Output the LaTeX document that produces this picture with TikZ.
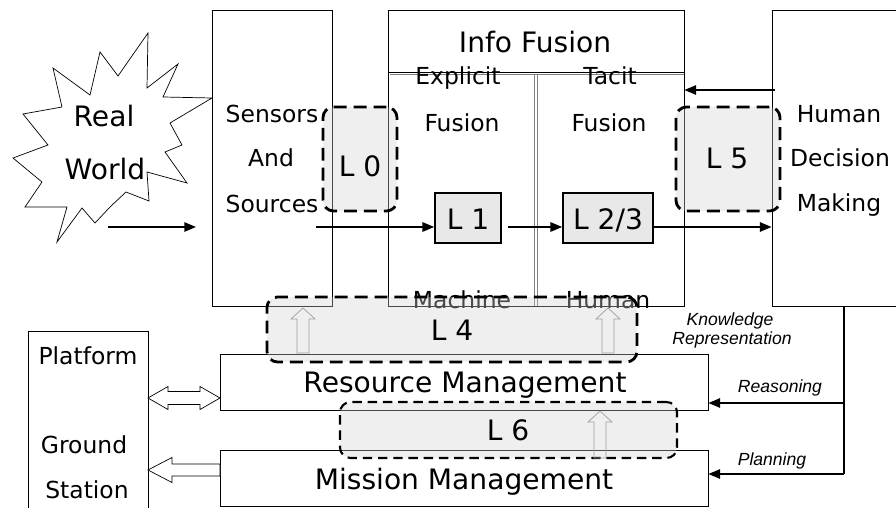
\documentclass[tikz,border=0pt]{standalone}
\usepackage{fontspec}
\setmainfont{DejaVu Sans}
\newfontfamily\notefont{Liberation Sans}
\usetikzlibrary{arrows.meta,fit,calc,positioning}

\tikzset{
  box/.style={draw, line width=0.7pt, inner sep=0pt},
  lvl/.style={draw, line width=1.4pt, fill=gray!18, inner sep=0pt},
  dashlvl/.style={draw, line width=2.4pt, dash pattern=on 11pt off 6pt,
    rounded corners=9pt, fill=gray!35, fill opacity=0.35, inner sep=0pt},
  flow/.style={line width=1.4pt, -{Triangle[length=10pt,width=8pt]}},
  hollow/.style={draw=gray!75, line width=0.6pt},
  big/.style={font=\fontsize{24}{28}\selectfont, inner sep=0pt},
  mid/.style={font=\fontsize{20}{24}\selectfont, inner sep=0pt},
  note/.style={font=\notefont\itshape\fontsize{15}{17}\selectfont, inner sep=0pt},
}

% hollow up arrow: x, bottom y, top y
\newcommand{\hollowup}[3]{%
  \draw[hollow] (#1-6,#2) -- (#1-6,#3+11) -- (#1-12,#3+11) -- (#1,#3)
    -- (#1+12,#3+11) -- (#1+6,#3+11) -- (#1+6,#2) -- cycle;}

\begin{document}
\begin{tikzpicture}[x=0.03cm, y=-0.03cm]
\useasboundingbox (0,0) rectangle (896,508);
\clip (0,0) rectangle (896,508);

% real world
\draw[line width=0.6pt] plot coordinates {(148,33) (147,88) (178,64) (163,97) (212,98)
  (170,123) (182,145) (165,152) (187,183) (147,172) (149,201) (126,192) (110,207)
  (95,223) (82,208) (57,242) (67,207) (25,207) (42,182) (13,158) (48,145) (23,114)
  (62,107) (53,68) (90,95) (100,52) (118,76)} -- cycle;
\node[big, anchor=base] (real) at (104,127) {Real};
\node[big, anchor=base] (world) at (105,180) {World};

% main boxes
\node[box, fit={(212,10) (332,306)}] (sens) {};
\node[box, fit={(388,10) (684,306)}] (info) {};
\node[box, fit={(772,10) (910,306)}] (hdm) {};
\node[box, fit={(220,354) (708,410)}] (rm) {};
\node[box, fit={(220,450) (708,506)}] (mm) {};
\node[box, fit={(28,331) (148,520)}] (plat) {};

% info fusion partitions
\draw[line width=0.7pt] (388,72) -- (684,72);
\draw[gray, line width=0.5pt] (390,74.5) -- (684,74.5);
\draw[gray, line width=0.5pt] (534,74.5) -- (534,306);
\draw[gray, line width=0.5pt] (537.5,74.5) -- (537.5,306);

% texts
\node[mid, anchor=base] (sensT) at (272,123) {Sensors};
\node[mid, anchor=base] (andT) at (271,167) {And};
\node[mid, anchor=base] (srcT) at (272,212) {Sources};
\node[big, anchor=base] (infoT) at (535,53) {Info Fusion};
\node[mid, anchor=base] (explT) at (458,85) {Explicit};
\node[mid, anchor=base] (efusT) at (462,132) {Fusion};
\node[mid, anchor=base] (tacT) at (610,85) {Tacit};
\node[mid, anchor=base] (tfusT) at (609,132) {Fusion};
\node[mid, anchor=base] (machT) at (462,308) {Machine};
\node[mid, anchor=base] (humT) at (608,308) {Human};
\node[mid, anchor=base] (hdm1) at (839,123) {Human};
\node[mid, anchor=base] (hdm2) at (840,167) {Decision};
\node[mid, anchor=base] (hdm3) at (839,211) {Making};
\node[big, anchor=base] (rmT) at (465,392) {Resource Management};
\node[big, anchor=base] (mmT) at (464,489) {Mission Management};
\node[mid, anchor=base] (platT) at (88,364) {Platform};
\node[mid, anchor=base] (grdT) at (84,453) {Ground};
\node[mid, anchor=base] (staT) at (87,498) {Station};

% levels
\node[lvl, fit={(435,193) (501,243)}] (l1) {};
\node[big, anchor=base] at (468,229) {L 1};
\node[lvl, fit={(563,193) (653,243)}] (l23) {};
\node[big, anchor=base] at (608,229) {L 2/3};

\node[dashlvl, fit={(323,107) (397,211)}] (l0) {};
\node[big, anchor=base] at (360,177) {L 0};
\node[dashlvl, fit={(676,107) (780,211)}] (l5) {};
\node[big, anchor=base] at (727,168) {L 5};
\node[dashlvl, fit={(267,297) (637,362)}] (l4) {};
\node[big, anchor=base] at (452,340) {L 4};
\node[dashlvl, line width=1.8pt, dash pattern=on 8pt off 5pt, fit={(340,402) (677,458)}] (l6) {};
\node[big, anchor=base] at (508,440) {L 6};

\hollowup{303}{353}{308}
\hollowup{608}{353}{308}
\hollowup{600}{458}{411}

% flows
\coordinate (rwout) at (108,227);
\coordinate (rwin) at (196,227);
\coordinate (sout) at (316,227);
\coordinate (l1out) at (508,227);
\coordinate (l23out) at (653,227);
\coordinate (back) at (775,90);
\draw[flow] (rwout) -- (rwin);
\draw[flow] (sout) -- (sout -| l1.west);
\draw[flow] (l1out) -- (l1out -| l23.west);
\draw[flow] (l23out) -- (l23out -| hdm.west);
\draw[flow] (back) -- (back -| info.east);

% feedback
\coordinate (fbtop) at (844,306);
\coordinate (fbmid) at (844,403);
\coordinate (fbbot) at (844,474);
\draw[line width=1.4pt] (fbtop) -- (fbbot);
\draw[flow] (fbmid) -- (fbmid -| rm.east);
\draw[flow] (fbbot) -- (fbbot -| mm.east);
\node[note, anchor=base] at (730,325) {Knowledge};
\node[note, anchor=base] at (732,344) {Representation};
\node[note, anchor=base] at (780,392) {Reasoning};
\node[note, anchor=base] at (772,465) {Planning};

% platform links
\coordinate (dl) at (148,398);
\coordinate (dr) at (220,398);
\draw[hollow, draw=black, fill=white] (dl) -- ++(20,-11.5) -- ++(0,5) -- ($(dr)+(-20,-6.5)$) -- ++(0,-5)
  -- (dr) -- ++(-20,11.5) -- ++(0,-5) -- ($(dl)+(20,6.5)$) -- ++(0,5) -- cycle;
\coordinate (sl) at (148,470);
\coordinate (sr) at (220,470);
\draw[hollow, draw=black, fill=white] (sl) -- ++(24,-12.5) -- ++(0,6.5) -- ($(sr)+(0,-6)$)
  -- ($(sr)+(0,6)$) -- ($(sl)+(24,6)$) -- ++(0,6.5) -- cycle;
\end{tikzpicture}
\end{document}
